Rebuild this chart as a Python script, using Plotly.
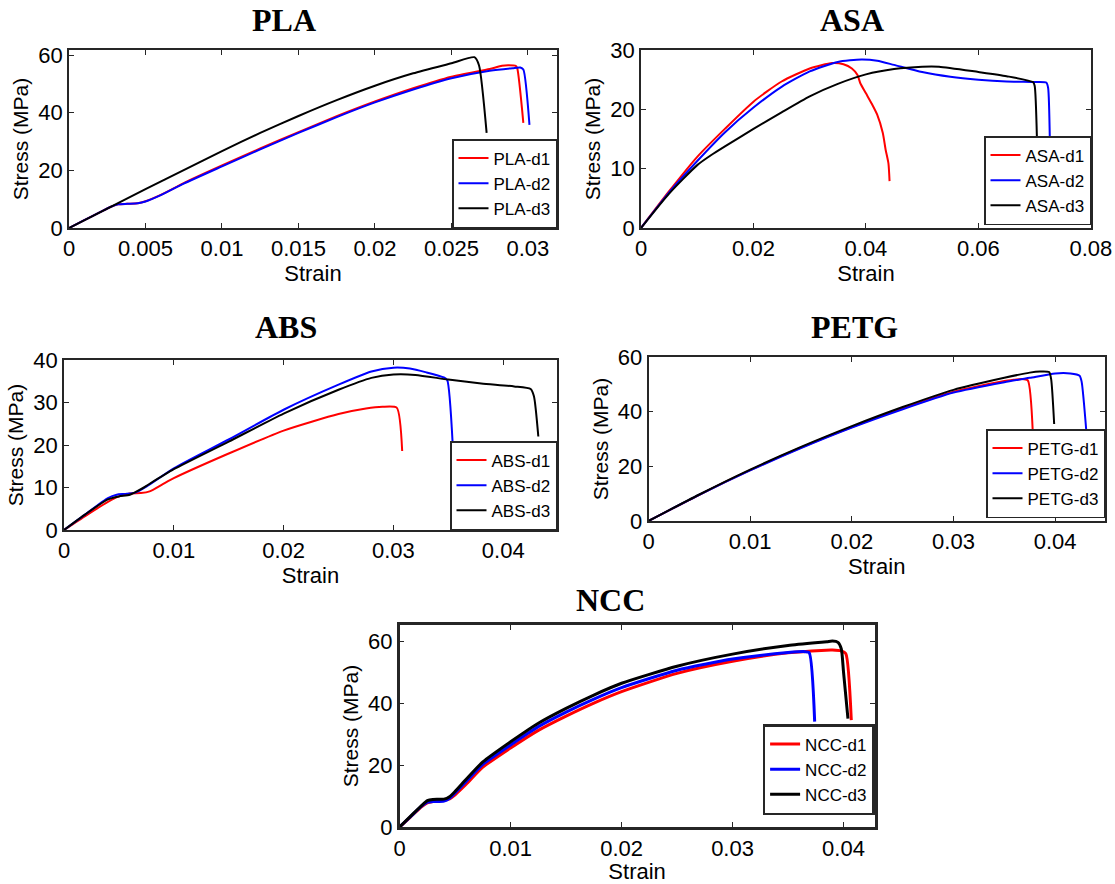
import plotly.graph_objects as go

# ---------------- data ----------------
panel_names = ["PLA", "ASA", "ABS", "PETG", "NCC"]
series_suffix = ["d1", "d2", "d3"]
series_colors = ["#ff0000", "#0000ff", "#000000"]

pla_d1_x = [0, 0.001, 0.002, 0.0027, 0.0032, 0.0038, 0.0045, 0.005, 0.006, 0.0075, 0.01, 0.0125, 0.015, 0.0175, 0.02, 0.0225, 0.025, 0.0275, 0.0283, 0.0287, 0.0292, 0.0293, 0.0297]
pla_d1_y = [0, 2.7, 5.4, 7.3, 8.2, 8.4, 8.6, 9.3, 11.5, 15.6, 21.7, 27.6, 33.3, 38.8, 43.9, 48.5, 52.5, 55.2, 56.3, 56.5, 56.3, 55.5, 36.5]
pla_d2_x = [0, 0.001, 0.002, 0.0027, 0.0032, 0.0038, 0.0045, 0.005, 0.006, 0.0075, 0.01, 0.0125, 0.015, 0.0175, 0.02, 0.0225, 0.025, 0.0275, 0.029, 0.0295, 0.0297, 0.0301]
pla_d2_y = [0, 2.7, 5.4, 7.3, 8.2, 8.4, 8.6, 9.2, 11.4, 15.4, 21.4, 27.3, 33.0, 38.5, 43.6, 48.1, 52.0, 54.6, 55.5, 55.7, 55.0, 35.8]
pla_d3_x = [0, 0.0025, 0.005, 0.0075, 0.01, 0.0125, 0.015, 0.0175, 0.02, 0.0225, 0.025, 0.0265, 0.0268, 0.0273]
pla_d3_y = [0, 6.7, 13.5, 20.1, 26.7, 33.0, 38.9, 44.4, 49.4, 53.7, 57.2, 59.3, 56.5, 33.0]

asa_d1_x = [0, 0.005, 0.01, 0.015, 0.02, 0.025, 0.03, 0.034, 0.036, 0.0375, 0.0385, 0.039, 0.04, 0.041, 0.042, 0.043, 0.0435, 0.044, 0.0442]
asa_d1_y = [0, 6.2, 12.0, 16.8, 21.3, 24.7, 26.9, 27.8, 27.6, 26.9, 25.8, 24.4, 22.7, 21.0, 19.1, 16.0, 13.2, 10.9, 7.9]
asa_d2_x = [0, 0.005, 0.01, 0.015, 0.02, 0.025, 0.03, 0.035, 0.0392, 0.042, 0.045, 0.05, 0.055, 0.06, 0.065, 0.07, 0.0721, 0.0724, 0.0727]
asa_d2_y = [0, 6.0, 11.3, 16.2, 20.3, 23.8, 26.4, 28.0, 28.4, 28.2, 27.5, 26.3, 25.5, 25.0, 24.7, 24.6, 24.5, 23.6, 14.8]
asa_d3_x = [0, 0.005, 0.01, 0.0125, 0.015, 0.02, 0.025, 0.03, 0.035, 0.04, 0.045, 0.05, 0.053, 0.06, 0.065, 0.0697, 0.07, 0.0704]
asa_d3_y = [0, 5.8, 10.6, 12.3, 13.8, 16.7, 19.5, 22.2, 24.3, 25.9, 26.8, 27.2, 27.2, 26.3, 25.6, 24.6, 24.0, 15.3]

abs_d1_x = [0, 0.002, 0.004, 0.005, 0.006, 0.007, 0.0078, 0.009, 0.01, 0.015, 0.02, 0.025, 0.0275, 0.029, 0.0303, 0.0308]
abs_d1_y = [0, 3.4, 6.6, 7.9, 8.6, 8.7, 9.1, 10.8, 12.2, 18.0, 23.4, 27.3, 28.6, 29.0, 28.8, 18.6]
abs_d2_x = [0, 0.002, 0.004, 0.0048, 0.0055, 0.0065, 0.0075, 0.01, 0.015, 0.02, 0.025, 0.028, 0.03, 0.0315, 0.033, 0.0346, 0.0349, 0.0354]
abs_d2_y = [0, 3.8, 7.5, 8.3, 8.5, 8.8, 10.2, 14.5, 21.3, 28.3, 34.2, 37.3, 38.2, 38.0, 37.1, 35.9, 35.3, 20.2]
abs_d3_x = [0, 0.002, 0.004, 0.005, 0.006, 0.007, 0.0075, 0.01, 0.015, 0.02, 0.025, 0.028, 0.03, 0.032, 0.035, 0.038, 0.041, 0.0425, 0.0428, 0.0432]
abs_d3_y = [0, 3.8, 7.2, 7.9, 8.3, 9.6, 10.4, 14.3, 20.8, 27.4, 33.0, 35.8, 36.6, 36.5, 35.4, 34.5, 33.8, 33.2, 31.5, 22.0]

petg_d1_x = [0, 0.005, 0.01, 0.015, 0.02, 0.025, 0.03, 0.035, 0.036, 0.0367, 0.0373, 0.0378]
petg_d1_y = [0, 9.6, 18.6, 26.9, 34.4, 41.2, 47.3, 51.2, 51.7, 52.0, 51.5, 32.3]
petg_d2_x = [0, 0.005, 0.01, 0.015, 0.02, 0.025, 0.03, 0.035, 0.0375, 0.04, 0.0415, 0.0424, 0.0426, 0.0431]
petg_d2_y = [0, 9.6, 18.5, 26.7, 34.2, 40.9, 47.0, 50.8, 52.4, 54.0, 54.0, 53.2, 51.0, 31.2]
petg_d3_x = [0, 0.005, 0.01, 0.015, 0.02, 0.025, 0.03, 0.035, 0.0375, 0.0385, 0.0394, 0.0396, 0.0399]
petg_d3_y = [0, 9.7, 18.8, 27.1, 34.7, 41.7, 48.0, 52.4, 54.3, 54.7, 54.5, 52.0, 35.5]

ncc_d1_x = [0, 0.001, 0.002, 0.0025, 0.003, 0.004, 0.0045, 0.005, 0.006, 0.0075, 0.01, 0.0125, 0.015, 0.0175, 0.02, 0.025, 0.03, 0.035, 0.038, 0.039, 0.0398, 0.0402, 0.0407]
ncc_d1_y = [0, 3.3, 6.6, 7.8, 8.2, 8.6, 9.1, 10.4, 13.8, 19.3, 25.5, 31.2, 35.8, 40.0, 43.7, 49.6, 53.5, 56.2, 57.0, 57.1, 56.8, 56.0, 34.5]
ncc_d2_x = [0, 0.001, 0.002, 0.0025, 0.003, 0.004, 0.0045, 0.005, 0.006, 0.0075, 0.01, 0.0125, 0.015, 0.0175, 0.02, 0.025, 0.03, 0.035, 0.0365, 0.0369, 0.0374]
ncc_d2_y = [0, 3.4, 6.8, 8.0, 8.2, 8.4, 9.3, 11.0, 14.7, 20.2, 26.5, 32.4, 37.1, 41.3, 45.0, 50.6, 54.2, 56.3, 56.6, 56.3, 34.0]
ncc_d3_x = [0, 0.001, 0.002, 0.0025, 0.003, 0.004, 0.0045, 0.005, 0.006, 0.0075, 0.01, 0.0125, 0.015, 0.0175, 0.02, 0.025, 0.03, 0.035, 0.0385, 0.039, 0.0395, 0.0398, 0.04, 0.0404]
ncc_d3_y = [0, 3.5, 7.0, 8.5, 8.9, 9.0, 9.8, 11.5, 15.4, 21.0, 27.5, 33.5, 38.3, 42.6, 46.4, 51.9, 55.8, 58.6, 59.8, 60.0, 59.6, 57.5, 50.0, 35.0]

pla_xticks = [0, 0.005, 0.01, 0.015, 0.02, 0.025, 0.03]
pla_xticktext = ["0", "0.005", "0.01", "0.015", "0.02", "0.025", "0.03"]
asa_xticks = [0, 0.02, 0.04, 0.06, 0.08]
asa_xticktext = ["0", "0.02", "0.04", "0.06", "0.08"]
p4_xticks = [0, 0.01, 0.02, 0.03, 0.04]
p4_xticktext = ["0", "0.01", "0.02", "0.03", "0.04"]

pla_yticks = [0, 20, 40, 60]
asa_yticks = [0, 10, 20, 30]
abs_yticks = [0, 10, 20, 30, 40]
petg_yticks = [0, 20, 40, 60]
ncc_yticks = [0, 20, 40, 60]

x_title = "Strain"
y_title = "Stress (MPa)"

# ---------------- layout helpers ----------------
W, H = 1115, 884
SANS = "Liberation Sans, Arial, sans-serif"
SERIF = "Liberation Serif, Times New Roman, serif"

def dom_x(a, b):
    return [a / W, b / W]

def dom_y(top, bottom):
    return [1 - bottom / H, 1 - top / H]

panels = [
    dict(name="PLA", data=[(pla_d1_x, pla_d1_y), (pla_d2_x, pla_d2_y), (pla_d3_x, pla_d3_y)],
         xd=dom_x(69, 557), yd=dom_y(50, 228), xr=[0, 0.0319], yr=[0, 61.8],
         xt=(pla_xticks, pla_xticktext), yt=pla_yticks, lw=2, bw=1.5,
         title_xy=(284, 20), leg_off=0, xs=2),
    dict(name="ASA", data=[(asa_d1_x, asa_d1_y), (asa_d2_x, asa_d2_y), (asa_d3_x, asa_d3_y)],
         xd=dom_x(641, 1091), yd=dom_y(50, 228), xr=[0, 0.08002], yr=[0, 30.01],
         xt=(asa_xticks, asa_xticktext), yt=asa_yticks, lw=2, bw=1.5,
         title_xy=(852, 20), leg_off=3, xs=0),
    dict(name="ABS", data=[(abs_d1_x, abs_d1_y), (abs_d2_x, abs_d2_y), (abs_d3_x, abs_d3_y)],
         xd=dom_x(64, 557), yd=dom_y(360, 530), xr=[0, 0.0449], yr=[0, 40.01],
         xt=(p4_xticks, p4_xticktext), yt=abs_yticks, lw=2, bw=1.5,
         title_xy=(286, 327), leg_off=0, xs=0),
    dict(name="PETG", data=[(petg_d1_x, petg_d1_y), (petg_d2_x, petg_d2_y), (petg_d3_x, petg_d3_y)],
         xd=dom_x(648.5, 1105), yd=dom_y(357, 521), xr=[0, 0.0449], yr=[0, 60.02],
         xt=(p4_xticks, p4_xticktext), yt=petg_yticks, lw=2, bw=1.5,
         title_xy=(854, 327), leg_off=3, xs=0),
    dict(name="NCC", data=[(ncc_d1_x, ncc_d1_y), (ncc_d2_x, ncc_d2_y), (ncc_d3_x, ncc_d3_y)],
         xd=dom_x(399.6, 874.6), yd=dom_y(625, 827), xr=[0, 0.0428], yr=[0, 65.2],
         xt=(p4_xticks, p4_xticktext), yt=ncc_yticks, lw=3, bw=2.5,
         title_xy=(610, 600), leg_off=12, xs=6),
]

fig = go.Figure()
layout = dict(
    width=W, height=H,
    margin=dict(l=0, r=0, t=0, b=0),
    paper_bgcolor="white", plot_bgcolor="white",
    showlegend=True,
    font=dict(family=SANS, color="black"),
)
annotations = []

for i, p in enumerate(panels):
    k = i + 1
    xa = "x" if k == 1 else f"x{k}"
    ya = "y" if k == 1 else f"y{k}"
    lg = "legend" if k == 1 else f"legend{k}"
    for j, (xs, ys) in enumerate(p["data"]):
        fig.add_trace(go.Scatter(
            x=xs, y=ys, mode="lines",
            name=f"{p['name']}-{series_suffix[j]}",
            line=dict(color=series_colors[j], width=p["lw"], shape="spline", smoothing=0.6),
            xaxis=xa, yaxis=ya, legend=lg,
        ))
    axis_common = dict(
        showline=True, mirror="allticks", linecolor="#262626", linewidth=p["bw"],
        ticks="inside", ticklen=5, tickwidth=1.2, tickcolor="#262626",
        showgrid=False, zeroline=False, automargin=False,
        tickfont=dict(size=22, family=SANS, color="black"),
    )
    layout["xaxis" if k == 1 else f"xaxis{k}"] = dict(
        axis_common, domain=p["xd"], range=p["xr"], anchor=ya,
        tickmode="array", tickvals=p["xt"][0], ticktext=p["xt"][1],
        ticklabeloverflow="allow",
        title=dict(text=x_title, standoff=p["xs"], font=dict(size=22)),
    )
    layout["yaxis" if k == 1 else f"yaxis{k}"] = dict(
        axis_common, domain=p["yd"], range=p["yr"], anchor=xa,
        tickmode="array", tickvals=p["yt"],
        title=dict(text=y_title, standoff=4, font=dict(size=21)),
    )
    layout[lg] = dict(
        x=p["xd"][1], xanchor="right",
        y=p["yd"][0] + p["leg_off"] / H, yanchor="bottom",
        bgcolor="white", bordercolor="#262626", borderwidth=p["bw"],
        font=dict(size=17, family=SANS, color="black"),
        tracegroupgap=0, itemwidth=30,
    )
    tx, ty = p["title_xy"]
    annotations.append(dict(
        text=f"<b>{p['name']}</b>", x=tx / W, y=1 - ty / H, xref="paper", yref="paper",
        xanchor="center", yanchor="middle", showarrow=False,
        font=dict(size=32, family=SERIF, color="black"),
    ))

layout["annotations"] = annotations
fig.update_layout(**layout)
fig.write_html("out.html", config={"displayModeBar": False},
               post_script="document.body.style.margin='0';")
